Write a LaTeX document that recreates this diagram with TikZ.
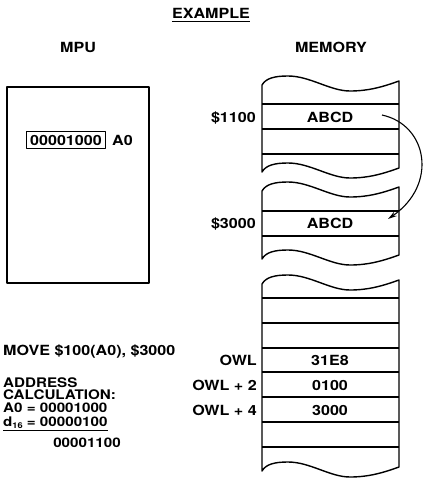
\documentclass[tikz,border=0pt]{standalone}
\usepackage{fontspec}
\setmainfont{TeX Gyre Heros}[FakeStretch=1.15]
\usetikzlibrary{arrows.meta}
% memory segment outline: #1 = base of top wave, #2 = base of bottom wave
\newcommand\memseg[2]{%
  \draw[mem] (262,{#1+9}) -- (262,{#2+9})
    .. controls (266,{#2+2}) and (275,#2) .. (288,#2)
    .. controls (310,#2) and (330,{#2+15}) .. (350,{#2+15})
    .. controls (370,{#2+15}) and (385,{#2+10}) .. (399,{#2+5})
    -- (399,{#1+5})
    .. controls (385,{#1+10}) and (370,{#1+15}) .. (350,{#1+15})
    .. controls (330,{#1+15}) and (310,#1) .. (288,#1)
    .. controls (275,#1) and (266,{#1+2}) .. cycle;}
\begin{document}
\begin{tikzpicture}[x=1pt,y=-1pt,line join=round,
  txt/.style={font=\fontsize{14}{12}\selectfont\bfseries,inner sep=0pt,text height=10pt,text depth=0pt},
  calc/.style={font=\fontsize{13.2}{12}\selectfont\bfseries,inner sep=0pt,text height=9.5pt,text depth=0pt,anchor=west},
  mem/.style={line width=1.4pt},
  rowline/.style={line width=1.2pt},
  regbox/.style={draw,line width=1.1pt,inner xsep=4pt,inner ysep=3.5pt},
  movearrow/.style={line width=1.1pt,-{Stealth[length=9pt,width=5pt]}}]
\useasboundingbox (0,0) rectangle (424,480);

% titles
\node[txt] (title) at (211,13) {EXAMPLE};
\draw[line width=1.1pt] ([yshift=-3pt]title.south west) -- ([yshift=-3pt]title.south east);
\node[txt] (mpu) at (78,47) {MPU};
\node[txt] (memory) at (331,47) {MEMORY};

% MPU box
\draw[line width=1.5pt] (7,87) rectangle (149,283);
\node[txt,regbox] (reg) at (66,140) {00001000};
\node[txt,anchor=west] (a0) at (112,140) {A0};

% memory segments
\memseg{76}{163}
\memseg{182}{250}
\memseg{275}{462}
\foreach \y in {104,129,154,211,236,298,323,348,372,397,422,447}
  \draw[rowline] (262,\y) -- (399,\y);

% memory contents
\node[txt] (abcd1) at (330,117) {ABCD};
\node[txt] (abcd2) at (330,223) {ABCD};
\node[txt] (m31e8) at (330,360) {31E8};
\node[txt] (m0100) at (330,385) {0100};
\node[txt] (m3000) at (330,410) {3000};

% address labels
\node[txt,anchor=east] (l1100) at (256,117) {\$1100};
\node[txt,anchor=east] (l3000) at (256,223) {\$3000};
\node[txt,anchor=east] (owl0) at (257,360) {OWL};
\node[txt,anchor=east] (owl2) at (257,385) {OWL + 2};
\node[txt,anchor=east] (owl4) at (257,410) {OWL + 4};

% move arrow
\coordinate (src) at (382,115);
\coordinate (dst) at (388,219);
\draw[movearrow] (src) .. controls (428,125) and (438,185) .. (dst);

% instruction and calculation
\node[txt,anchor=west] (instr) at (3,350) {MOVE \$100(A0), \$3000};
\node[calc] (calc1) at (3,382.5) {ADDRESS};
\node[calc] (calc2) at (3,395) {CALCULATION:};
\node[calc] (calc3) at (3,407.5) {A0 = 00001000};
\node[calc] (calc4) at (3,421.5) {d{\fontsize{8}{8}\selectfont\raisebox{-2pt}{16}} = 00000100};
\draw[line width=1.2pt] ([yshift=-4pt]calc4.south west) -- ([yshift=-4pt]calc4.south east);
\node[calc,anchor=east] (calc5) at (121,443) {00001100};
\end{tikzpicture}
\end{document}
